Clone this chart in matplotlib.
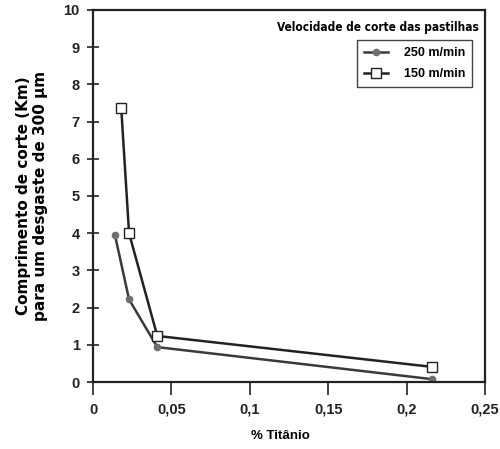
import matplotlib.pyplot as plt

# % titanio vs comprimento de corte (km)
ti_250 = [0.014, 0.023, 0.041, 0.216]
km_250 = [3.95, 2.22, 0.94, 0.08]
ti_150 = [0.018, 0.023, 0.041, 0.216]
km_150 = [7.37, 4.0, 1.24, 0.41]

xticks = [0, 0.05, 0.1, 0.15, 0.2, 0.25]
xlabels = ['0', '0,05', '0,1', '0,15', '0,2', '0,25']
yticks = list(range(0, 11))

plt.rcParams['font.family'] = ['Liberation Sans', 'DejaVu Sans']

fig = plt.figure(figsize=(5, 4.49), dpi=100)
ax = fig.add_axes([0.186, 0.149, 0.784, 0.829])

ax.plot(ti_250, km_250, color='#3a3a3a', lw=1.8, marker='o', ms=4.5,
        mfc='#6e6e6e', mec='#6e6e6e', label='250 m/min')
ax.plot(ti_150, km_150, color='#222222', lw=1.8, marker='s', ms=7,
        mfc='white', mec='#222222', mew=1.0, label='150 m/min')

ax.set_xlim(0, 0.25)
ax.set_ylim(0, 10)
ax.set_xticks(xticks)
ax.set_xticklabels(xlabels)
ax.set_yticks(yticks)

for s in ax.spines.values():
    s.set_linewidth(1.6)
    s.set_color('#222222')

ax.tick_params(axis='y', direction='inout', length=9, width=1.2, pad=5,
               labelsize=10.5, colors='#222222')
ax.tick_params(axis='x', direction='out', length=9, width=1.2, pad=6,
               labelsize=10.5, colors='#222222')
for lab in ax.get_xticklabels() + ax.get_yticklabels():
    lab.set_fontweight('bold')

ax.set_xlabel('% Titânio', fontsize=9.5, fontweight='bold')
ax.xaxis.set_label_coords(0.477, -0.128)
ax.set_ylabel('Comprimento de corte (Km)\npara um desgaste de 300 µm',
              fontsize=11, fontweight='bold', labelpad=11,
              family=['DejaVu Sans'], linespacing=1.2)

ax.text(0.985, 0.952, 'Velocidade de corte das pastilhas', transform=ax.transAxes,
        ha='right', va='center', fontsize=8.5, fontweight='bold',
        family=['DejaVu Sans'], stretch='condensed')

leg = ax.legend(loc='upper right', bbox_to_anchor=(0.967, 0.919),
                borderaxespad=0, fancybox=False, framealpha=1,
                edgecolor='#444444', handlelength=1.9, handletextpad=1.3,
                borderpad=0.55, labelspacing=0.75,
                prop={'family': 'Liberation Sans', 'weight': 'bold', 'size': 9})
leg.get_frame().set_linewidth(1.0)

fig.savefig('out.png', dpi=100)
